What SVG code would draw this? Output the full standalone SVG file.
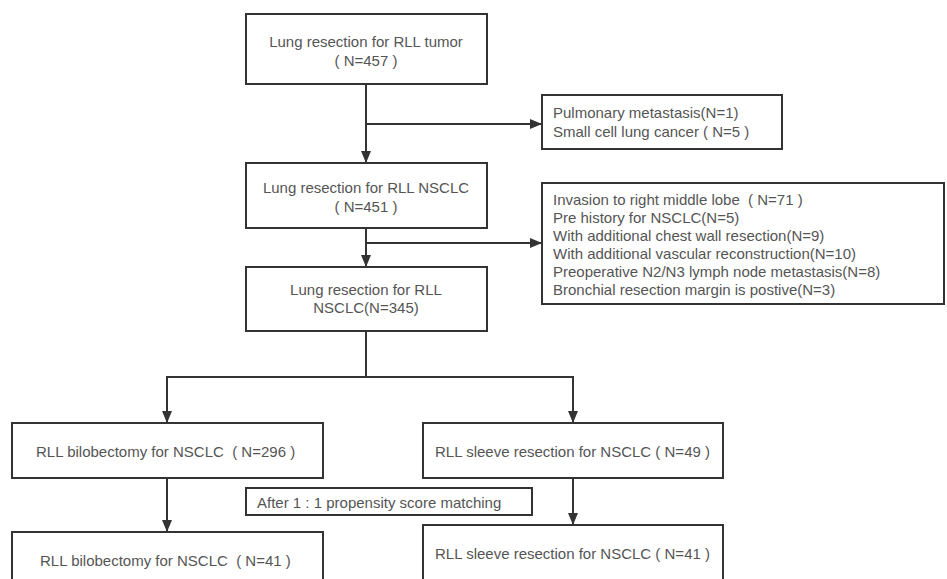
<svg xmlns="http://www.w3.org/2000/svg" width="947" height="579" viewBox="0 0 947 579">
<style>
.box{fill:#fff;stroke:#333;stroke-width:2}
.t{font-family:"Liberation Sans",Arial,sans-serif;font-size:15px;fill:#555}
.c{text-anchor:middle}
.ln{fill:none;stroke:#333;stroke-width:2}
</style>
<defs>
<marker id="ah" markerWidth="12" markerHeight="12" refX="11" refY="6" orient="auto" markerUnits="userSpaceOnUse" viewBox="0 0 12 12">
<path d="M0,1 L12,6 L0,11 z" fill="#333"/>
</marker>
</defs>
<rect width="947" height="579" fill="#fff"/>
<g id="connectors">
<line class="ln" x1="366" y1="84" x2="366" y2="162" marker-end="url(#ah)"/>
<line class="ln" x1="366" y1="124" x2="541" y2="124" marker-end="url(#ah)"/>
<line class="ln" x1="366" y1="228" x2="366" y2="266" marker-end="url(#ah)"/>
<line class="ln" x1="366" y1="243" x2="541" y2="243" marker-end="url(#ah)"/>
<polyline class="ln" points="366,331 366,377 167,377 167,422" marker-end="url(#ah)"/>
<polyline class="ln" points="366,377 573,377 573,422" marker-end="url(#ah)"/>
<line class="ln" x1="167" y1="478" x2="167" y2="531" marker-end="url(#ah)"/>
<line class="ln" x1="573" y1="478" x2="573" y2="524" marker-end="url(#ah)"/>
</g>
<g id="n1"><rect class="box" x="246" y="14" width="241" height="70"/>
<text class="t c" x="366" y="47">Lung resection for RLL tumor</text>
<text class="t c" x="366" y="66">( N=457 )</text></g>
<g id="n2"><rect class="box" x="542" y="95" width="240" height="54"/>
<text class="t" x="553" y="118">Pulmonary metastasis(N=1)</text>
<text class="t" x="553" y="137">Small cell lung cancer ( N=5 )</text></g>
<g id="n3"><rect class="box" x="246" y="163" width="241" height="65"/>
<text class="t c" x="366" y="193">Lung resection for RLL NSCLC</text>
<text class="t c" x="366" y="212">( N=451 )</text></g>
<g id="n4"><rect class="box" x="542" y="183" width="402" height="121"/>
<text class="t" x="553" y="205">Invasion to right middle lobe&#160; ( N=71 )</text>
<text class="t" x="553" y="223">Pre history for NSCLC(N=5)</text>
<text class="t" x="553" y="241">With additional chest wall resection(N=9)</text>
<text class="t" x="553" y="259">With additional vascular reconstruction(N=10)</text>
<text class="t" x="553" y="277">Preoperative N2/N3 lymph node metastasis(N=8)</text>
<text class="t" x="553" y="295">Bronchial resection margin is postive(N=3)</text></g>
<g id="n5"><rect class="box" x="246" y="267" width="241" height="64"/>
<text class="t c" x="366" y="295">Lung resection for RLL</text>
<text class="t c" x="366" y="313">NSCLC(N=345)</text></g>
<g id="n6"><rect class="box" x="12" y="423" width="311" height="55"/>
<text class="t" x="36" y="457">RLL bilobectomy for NSCLC&#160; ( N=296 )</text></g>
<g id="n7"><rect class="box" x="423" y="423" width="300" height="55"/>
<text class="t" x="435" y="457">RLL sleeve resection for NSCLC ( N=49 )</text></g>
<g id="n8"><rect class="box" x="246" y="488" width="286" height="27"/>
<text class="t" x="257" y="508">After 1 : 1 propensity score matching</text></g>
<g id="n9"><rect class="box" x="12" y="532" width="311" height="60"/>
<text class="t" x="40" y="566">RLL bilobectomy for NSCLC&#160; ( N=41 )</text></g>
<g id="n10"><rect class="box" x="423" y="525" width="300" height="65"/>
<text class="t" x="435" y="559">RLL sleeve resection for NSCLC ( N=41 )</text></g>
</svg>
